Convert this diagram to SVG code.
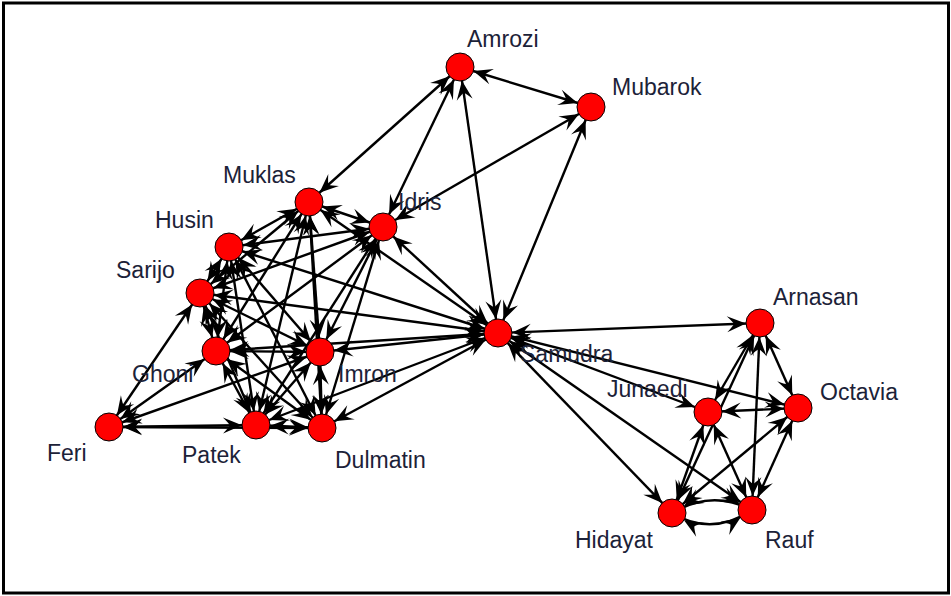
<svg xmlns="http://www.w3.org/2000/svg" width="951" height="596" viewBox="0 0 951 596">
  <defs>
    <!-- arrowhead: tip sits 14px in from the line end, on the vertex rim -->
    <marker id="ah" markerUnits="userSpaceOnUse" orient="auto-start-reverse" viewBox="-36 -10 38 20" markerWidth="38" markerHeight="20" refX="0" refY="0" overflow="visible">
      <path d="M-14,0 L-33,-8 Q-27.5,-2.5 -26,0 Q-27.5,2.5 -33,8 Z" fill="#000"/>
    </marker>
  </defs>
  <style>
    .e { stroke: #000; stroke-width: 2.4; fill: none; marker-start: url(#ah); marker-end: url(#ah); }
    .v { fill: #ff0000; stroke: #000; stroke-width: 1; }
    .lbl { font-family: "Liberation Sans", Arial, sans-serif; font-size: 23px; fill: #1c2238; }
  </style>
  <rect x="3.5" y="3" width="945" height="590" fill="#fff" stroke="#000" stroke-width="3"/>

  <g id="connectors">
    <!-- top -->
    <line class="e" x1="460" y1="67" x2="591" y2="107"/>
    <line class="e" x1="460" y1="67" x2="309" y2="202"/>
    <line class="e" x1="460" y1="67" x2="383" y2="227"/>
    <line class="e" x1="460" y1="67" x2="498" y2="333"/>
    <line class="e" x1="591" y1="107" x2="383" y2="227"/>
    <line class="e" x1="591" y1="107" x2="498" y2="333"/>
    <!-- Samudra -->
    <line class="e" x1="498" y1="333" x2="309" y2="202"/>
    <line class="e" x1="498" y1="333" x2="383" y2="227"/>
    <line class="e" x1="498" y1="333" x2="229" y2="247"/>
    <line class="e" x1="498" y1="333" x2="200" y2="293"/>
    <line class="e" x1="498" y1="333" x2="216" y2="351"/>
    <line class="e" x1="498" y1="333" x2="320" y2="352"/>
    <line class="e" x1="498" y1="333" x2="256" y2="425"/>
    <line class="e" x1="498" y1="333" x2="322" y2="428"/>
    <line class="e" x1="498" y1="333" x2="760" y2="323"/>
    <line class="e" x1="498" y1="333" x2="708" y2="412"/>
    <line class="e" x1="498" y1="333" x2="798" y2="408"/>
    <line class="e" x1="498" y1="333" x2="672" y2="513"/>
    <line class="e" x1="498" y1="333" x2="752" y2="510"/>
    <!-- right cluster -->
    <line class="e" x1="760" y1="323" x2="708" y2="412"/>
    <line class="e" x1="760" y1="323" x2="798" y2="408"/>
    <line class="e" x1="760" y1="323" x2="672" y2="513"/>
    <line class="e" x1="760" y1="323" x2="752" y2="510"/>
    <line class="e" x1="708" y1="412" x2="798" y2="408"/>
    <line class="e" x1="708" y1="412" x2="672" y2="513"/>
    <line class="e" x1="708" y1="412" x2="752" y2="510"/>
    <line class="e" x1="798" y1="408" x2="672" y2="513"/>
    <line class="e" x1="798" y1="408" x2="752" y2="510"/>
    <path class="e" d="M672,513 Q712,489 752,510"/>
    <path class="e" d="M672,513 Q712,537 752,510"/>
    <!-- left cluster -->
    <line class="e" x1="309" y1="202" x2="383" y2="227"/>
    <line class="e" x1="309" y1="202" x2="229" y2="247"/>
    <line class="e" x1="309" y1="202" x2="200" y2="293"/>
    <line class="e" x1="309" y1="202" x2="216" y2="351"/>
    <line class="e" x1="309" y1="202" x2="320" y2="352"/>
    <line class="e" x1="309" y1="202" x2="256" y2="425"/>
    <line class="e" x1="309" y1="202" x2="322" y2="428"/>
    <line class="e" x1="383" y1="227" x2="229" y2="247"/>
    <line class="e" x1="383" y1="227" x2="200" y2="293"/>
    <line class="e" x1="383" y1="227" x2="216" y2="351"/>
    <line class="e" x1="383" y1="227" x2="320" y2="352"/>
    <line class="e" x1="383" y1="227" x2="256" y2="425"/>
    <line class="e" x1="383" y1="227" x2="322" y2="428"/>
    <line class="e" x1="229" y1="247" x2="200" y2="293"/>
    <line class="e" x1="229" y1="247" x2="216" y2="351"/>
    <line class="e" x1="229" y1="247" x2="320" y2="352"/>
    <line class="e" x1="229" y1="247" x2="256" y2="425"/>
    <line class="e" x1="229" y1="247" x2="322" y2="428"/>
    <line class="e" x1="200" y1="293" x2="216" y2="351"/>
    <line class="e" x1="200" y1="293" x2="320" y2="352"/>
    <line class="e" x1="200" y1="293" x2="256" y2="425"/>
    <line class="e" x1="200" y1="293" x2="322" y2="428"/>
    <line class="e" x1="216" y1="351" x2="320" y2="352"/>
    <line class="e" x1="216" y1="351" x2="256" y2="425"/>
    <line class="e" x1="216" y1="351" x2="322" y2="428"/>
    <line class="e" x1="320" y1="352" x2="256" y2="425"/>
    <line class="e" x1="320" y1="352" x2="322" y2="428"/>
    <line class="e" x1="256" y1="425" x2="322" y2="428"/>
    <!-- Feri -->
    <line class="e" x1="109" y1="427" x2="200" y2="293"/>
    <line class="e" x1="109" y1="427" x2="216" y2="351"/>
    <line class="e" x1="109" y1="427" x2="320" y2="352"/>
    <line class="e" x1="109" y1="427" x2="256" y2="425"/>
    <line class="e" x1="109" y1="427" x2="322" y2="428"/>
  </g>

  <g id="amrozi"><circle class="v" cx="460" cy="67" r="14"/><text class="lbl" x="467" y="47">Amrozi</text></g>
  <g id="mubarok"><circle class="v" cx="591" cy="107" r="14"/><text class="lbl" x="612" y="95">Mubarok</text></g>
  <g id="muklas"><circle class="v" cx="309" cy="202" r="14"/><text class="lbl" x="223" y="183">Muklas</text></g>
  <g id="idris"><circle class="v" cx="383" cy="227" r="14"/><text class="lbl" x="398" y="210">Idris</text></g>
  <g id="husin"><circle class="v" cx="229" cy="247" r="14"/><text class="lbl" x="155" y="228">Husin</text></g>
  <g id="sarijo"><circle class="v" cx="200" cy="293" r="14"/><text class="lbl" x="116" y="278">Sarijo</text></g>
  <g id="ghoni"><circle class="v" cx="216" cy="351" r="14"/><text class="lbl" x="132" y="382">Ghoni</text></g>
  <g id="imron"><circle class="v" cx="320" cy="352" r="14"/><text class="lbl" x="338" y="382">Imron</text></g>
  <g id="samudra"><circle class="v" cx="498" cy="333" r="14"/><text class="lbl" x="520" y="362">Samudra</text></g>
  <g id="feri"><circle class="v" cx="109" cy="427" r="14"/><text class="lbl" x="47" y="461">Feri</text></g>
  <g id="patek"><circle class="v" cx="256" cy="425" r="14"/><text class="lbl" x="182" y="463">Patek</text></g>
  <g id="dulmatin"><circle class="v" cx="322" cy="428" r="14"/><text class="lbl" x="335" y="468">Dulmatin</text></g>
  <g id="arnasan"><circle class="v" cx="760" cy="323" r="14"/><text class="lbl" x="773" y="305">Arnasan</text></g>
  <g id="junaedi"><circle class="v" cx="708" cy="412" r="14"/><text class="lbl" x="607" y="397">Junaedi</text></g>
  <g id="octavia"><circle class="v" cx="798" cy="408" r="14"/><text class="lbl" x="820" y="400">Octavia</text></g>
  <g id="hidayat"><circle class="v" cx="672" cy="513" r="14"/><text class="lbl" x="575" y="548">Hidayat</text></g>
  <g id="rauf"><circle class="v" cx="752" cy="510" r="14"/><text class="lbl" x="765" y="548">Rauf</text></g>
</svg>
